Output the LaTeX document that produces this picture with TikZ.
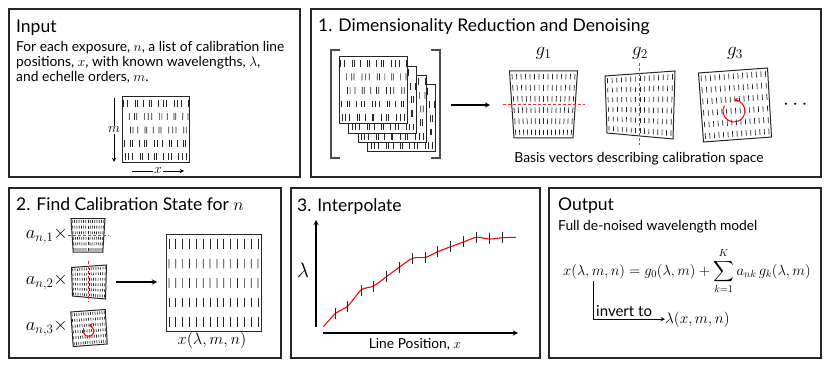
\RequirePackage{fix-cm}
\documentclass[tikz,border=0pt]{standalone}
\usepackage{amsmath}
\usepackage[no-math]{fontspec}
\setmainfont{Lato}
\usetikzlibrary{arrows, positioning, calc}

% ticks of calibration lines inside a four-cornered sheet
% #1 TL, #2 TR, #3 BR, #4 BL, #5 rows, #6 columns, #7 jitter
\newcommand{\linegrid}[7]{%
  \foreach \rowi in {1,...,#5}{
    \foreach \coli in {1,...,#6}{
      \pgfmathsetmacro{\gu}{(\coli-0.5)/#6+#7*sin(131*\coli+57*\rowi)}
      \pgfmathsetmacro{\ga}{(\rowi-0.75)/#5}
      \pgfmathsetmacro{\gb}{(\rowi-0.25)/#5}
      \coordinate (gl) at ($(#1)!\ga!(#4)$);
      \coordinate (gr) at ($(#2)!\ga!(#3)$);
      \coordinate (ga) at ($(gl)!\gu!(gr)$);
      \coordinate (gl) at ($(#1)!\gb!(#4)$);
      \coordinate (gr) at ($(#2)!\gb!(#3)$);
      \coordinate (gb) at ($(gl)!\gu!(gr)$);
      \draw[tick] (ga) -- (gb);
    }
  }
}

% basis vectors, #1 centre, #2 scale
\newcommand{\gone}[2]{%
  \begin{scope}[shift={#1}, scale=#2]
    \coordinate (q1) at (-34,-33.5); \coordinate (q2) at (34,-33.5);
    \coordinate (q3) at (29.5,33.5); \coordinate (q4) at (-29.5,33.5);
    \draw[sheet] (q1) -- (q2) -- (q3) -- (q4) -- cycle;
    \linegrid{q1}{q2}{q3}{q4}{6}{15}{0}
    \draw[guide] (-41,0) -- (41,0);
  \end{scope}}
\newcommand{\gtwo}[2]{%
  \begin{scope}[shift={#1}, scale=#2]
    \coordinate (q1) at (-35,-29); \coordinate (q2) at (35,-34);
    \coordinate (q3) at (33,34); \coordinate (q4) at (-33,28);
    \draw[sheet] (q1) -- (q2) -- (q3) -- (q4) -- cycle;
    \linegrid{q1}{q2}{q3}{q4}{6}{15}{0}
    \draw[guide] (-1,-42) -- (-1,40);
  \end{scope}}
\newcommand{\gthree}[2]{%
  \begin{scope}[shift={#1}, scale=#2]
    \coordinate (q1) at (-36.5,-32); \coordinate (q2) at (32.5,-37);
    \coordinate (q3) at (36.5,32); \coordinate (q4) at (-31.5,37);
    \draw[sheet] (q1) -- (q2) -- (q3) -- (q4) -- cycle;
    \linegrid{q1}{q2}{q3}{q4}{6}{15}{0}
    \draw[spin] (-1,6) ++(-150:11) arc[start angle=-150, end angle=-452, radius=11];
  \end{scope}}

\begin{document}
\begin{tikzpicture}[
  x=1pt, y=-1pt,
  >=stealth,
  panel/.style={draw=black!85, line width=1.3pt},
  title/.style={anchor=base west, inner sep=0pt, font=\fontsize{17.5}{20}\selectfont},
  body/.style={anchor=base west, inner sep=0pt, font=\fontsize{13.8}{16}\selectfont},
  mathlbl/.style={inner sep=0pt, font=\fontsize{15.3}{18}\selectfont},
  sheet/.style={rectangle, draw=black!85, line width=1pt, fill=white, inner sep=0pt},
  tick/.style={line width=0.7pt, black!85},
  guide/.style={red!85, densely dashed, line width=0.8pt},
  spin/.style={->, red, line width=1pt},
  arrow/.style={->, line width=1.3pt}
]
  \useasboundingbox (0,0) rectangle (830,366);

  % panels
  \draw[panel] (9,9) rectangle (300,177);
  \draw[panel] (311,9) rectangle (821,177);
  \draw[panel] (9,188) rectangle (281,358);
  \draw[panel] (291,188) rectangle (540,358);
  \draw[panel] (549,188) rectangle (821,358);

  % input
  \node[title] (tin) at (16,33) {Input};
  \node[body] (in1) at (16,52) {For each exposure, $n$, a list of calibration line};
  \node[body] (in2) at (16,67) {positions, $x$, with known wavelengths, $\lambda$,};
  \node[body] (in3) at (16,82) {and echelle orders, $m$.};
  \node[sheet, minimum width=67pt, minimum height=66pt] (ingrid) at (155.5,130) {};
  \linegrid{ingrid.north west}{ingrid.north east}{ingrid.south east}{ingrid.south west}{5}{14}{0.025}
  \draw[->, line width=0.9pt] (114,98) -- node[body, anchor=center, fill=white, inner sep=1pt] {$m$} (114,162);
  \draw[->, line width=0.9pt] (132,171) -- node[body, anchor=center, fill=white, inner sep=1pt] {$x$} (184,171);

  % 1. dimensionality reduction
  \node[title] (t1) at (318,32) {1. Dimensionality Reduction and Denoising};
  \draw[line width=1.2pt, black!70] (340,50) -- (331,50) -- (331,158) -- (340,158);
  \draw[line width=1.2pt, black!70] (431,50) -- (440,50) -- (440,158) -- (431,158);
  \foreach \k in {3,2,1,0}{
    \node[sheet, minimum width=68pt, minimum height=67pt] (s\k) at (373+9.5*\k,90.5+9.3*\k) {};
    \linegrid{s\k.north west}{s\k.north east}{s\k.south east}{s\k.south west}{5}{14}{0.025}
  }
  \coordinate (a1s) at (451,105);
  \coordinate (a1e) at (490,105);
  \draw[arrow] (a1s) -- (a1e);
  \gone{(543.5,104.5)}{1}
  \gtwo{(640,105)}{1}
  \gthree{(735,105)}{1}
  \node[mathlbl, font=\fontsize{19}{22}\selectfont] (g1) at (543.5,53) {$g_1$};
  \node[mathlbl, font=\fontsize{19}{22}\selectfont] (g2) at (640,53) {$g_2$};
  \node[mathlbl, font=\fontsize{19}{22}\selectfont] (g3) at (735,53) {$g_3$};
  \node[mathlbl, font=\fontsize{21}{24}\selectfont] (dots) at (797,105) {$\cdots$};
  \node[body, anchor=base] (cap1) at (639,163) {Basis vectors describing calibration space};

  % 2. calibration state
  \node[title] (t2) at (16,211) {2. Find Calibration State for $n$};
  \node[mathlbl, anchor=east, font=\fontsize{18.5}{22}\selectfont] (an1) at (68,236) {$a_{n,1}\times$};
  \node[mathlbl, anchor=east, font=\fontsize{18.5}{22}\selectfont] (an2) at (68,282) {$a_{n,2}\times$};
  \node[mathlbl, anchor=east, font=\fontsize{18.5}{22}\selectfont] (an3) at (68,328) {$a_{n,3}\times$};
  \gone{(88,235.5)}{0.5}
  \gtwo{(89,282)}{0.5}
  \gthree{(89,328)}{0.5}
  \coordinate (a2s) at (116,282);
  \coordinate (a2e) at (157,282);
  \draw[arrow] (a2s) -- (a2e);
  \node[sheet, minimum width=95pt, minimum height=96pt] (big) at (213.5,283) {};
  \linegrid{big.north west}{big.north east}{big.south east}{big.south west}{5}{14}{0}
  \node[mathlbl, anchor=base, font=\fontsize{16.3}{19}\selectfont] (xlmn) at (212,344) {$x(\lambda,m,n)$};

  % 3. interpolate
  \node[title] (t3) at (297,212) {3. Interpolate};
  \coordinate (yb) at (316,327);
  \coordinate (yt) at (316,220);
  \coordinate (xl) at (323,333);
  \coordinate (xr) at (518,333);
  \draw[arrow] (yb) -- (yt);
  \draw[arrow] (xl) -- (xr);
  \node[mathlbl, font=\fontsize{21}{24}\selectfont] (lam) at (303,270) {$\lambda$};
  \node[body, anchor=base] (xlab) at (415,348) {Line Position, $x$};
  \draw[red, line width=1.1pt] plot[smooth, tension=0.5] coordinates {
    (323.5,326.7) (335.7,313.3) (347.9,306) (361.2,290) (373.5,286) (386.4,276.7)
    (399.3,267.3) (412.6,258.3) (425.6,257.3) (437.8,251.7) (450.7,246.7)
    (463.7,242) (476.6,237.3) (489.5,239) (502.5,237.7) (515.8,237.3)};
  \foreach \px/\py in {335.7/313.3, 347.9/306, 361.2/290, 373.5/286, 386.4/276.7,
    399.3/267.3, 412.6/258.3, 425.6/257.3, 437.8/251.7, 450.7/246.7,
    463.7/242, 476.6/237.3, 489.5/239, 502.5/237.7}
    \draw[tick, line width=0.9pt] (\px,\py-5.5) -- (\px,\py+5.5);

  % output
  \node[title] (tout) at (558,211) {Output};
  \node[body] (tsub) at (558,230) {Full de-noised wavelength model};
  \node[mathlbl, anchor=base west, font=\fontsize{14.7}{17}\selectfont] (eq) at (563,275)
    {$\displaystyle x(\lambda,m,n)=g_0(\lambda,m)+\sum_{k=1}^{K}a_{nk}\,g_k(\lambda,m)$};
  \coordinate (inv) at (593,281);
  \node[mathlbl, anchor=base west] (lamx) at (665,323) {$\lambda(x,m,n)$};
  \draw[->, line width=0.9pt] (inv) |- (lamx.west);
  \node[body, font=\fontsize{15}{17}\selectfont] (invtxt) at (596,316) {invert to};
\end{tikzpicture}
\end{document}
